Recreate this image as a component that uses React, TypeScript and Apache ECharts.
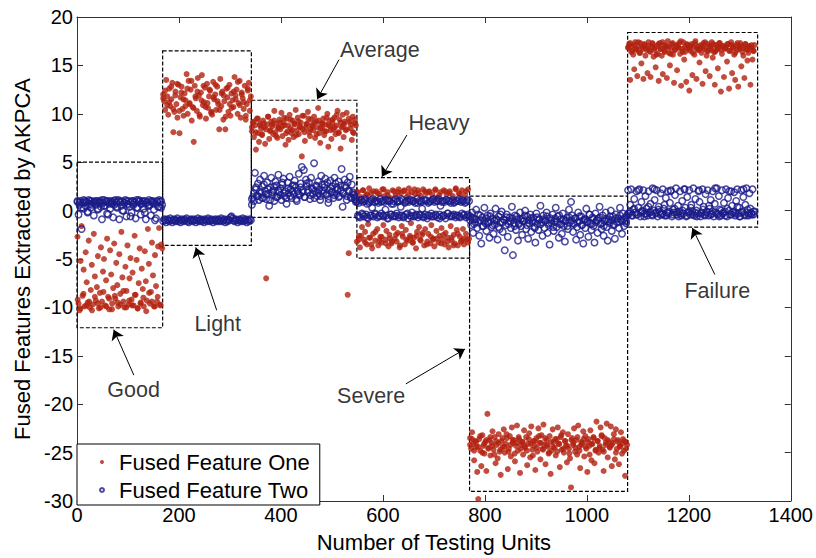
import React, { useEffect, useRef } from "react";
import * as echarts from "echarts";

// Fused feature values per health state (first pass over the units).
const goodOne = [
  -2.7, -9.6, -10.3, -5.2, -1.6, -8.8, -6.1, -9.9, -4.3, -7.4,
  -9.5, -3.1, -10.0, -8.2, -5.6, -9.7, -2.4, -6.8, -9.3, -7.9,
  -4.7, -10.1, -8.5, -3.8, -9.4, -6.3, -5.0, -9.8, -7.2, -2.9,
  -8.9, -10.2, -4.1, -6.6, -9.6, -8.0, -3.4, -9.1, -5.4, -7.7,
  -9.9, -4.5, -8.6, -2.2, -6.9, -9.4, -10.0, -5.8, -8.3, -3.6,
  -9.7, -7.0, -4.9, -9.2, -6.4, -9.8, -2.6, -8.7, -5.1, -10.1,
  -7.5, -3.9, -9.5, -6.0, -8.1, -9.9, -4.2, -7.3, -9.3, -1.9,
  -5.5, -9.6, -8.4, -3.3, -6.7, -9.9, -4.6, -7.8, -9.4, -3.7,
  -1.8, -9.8, -3.5, -3.9,
];
const goodTwo = [
  0.9, -0.4, 0.6, 1.0, -1.9, 0.8, 0.2, 1.0, 0.5, 0.9,
  -0.2, 1.1, 0.7, 0.3, 1.0, 0.8, -0.5, 0.9, 0.6, 1.0,
  0.1, 0.9, 1.0, 0.4, -0.9, 0.8, 1.1, 0.5, 0.9, -0.3,
  1.0, 0.7, 0.2, 1.0, 0.9, -0.7, 0.6, 1.1, 0.8, 0.3,
  1.0, -0.9, 0.9, 0.5, 1.0, 0.0, 0.8, 1.1, -0.6, 0.7,
  1.0, 0.4, 0.9, -0.2, 1.0, 0.6, 0.8, -0.8, 1.1, 0.3,
  0.9, 1.0, -0.4, 0.7, 0.9, 0.2, 1.0, -0.9, 0.8, 0.5,
  1.1, 0.6, -0.5, 0.9, 1.0, 0.1, 0.7, -0.8, 1.0, 0.4,
  1.1, 0.9, 0.3, 0.6,
];
const lightOne = [
  12.0, 11.3, 10.4, 13.5, 11.8, 9.9, 12.6, 10.8, 11.5, 13.2,
  8.1, 10.2, 12.3, 11.0, 9.6, 13.0, 8.0, 11.7, 12.8, 10.5,
  9.8, 12.1, 11.4, 14.1, 10.0, 13.4, 11.1, 12.5, 9.3, 10.7,
  7.1, 12.9, 11.6, 10.3, 13.7, 11.9, 9.7, 12.2, 14.0, 10.9,
  11.2, 12.7, 9.5, 13.1, 10.6, 11.8, 12.4, 10.1, 9.9, 13.3,
  11.5, 12.0, 10.4, 12.8, 11.0, 8.4, 13.6, 10.8, 12.3, 9.4,
  11.3, 8.4, 12.6, 11.7, 10.2, 13.0, 9.8, 12.1, 11.4, 10.7,
  13.8, 11.9, 12.5, 10.0, 11.1, 13.4, 9.6, 12.2, 11.6, 10.5,
  12.9, 9.4, 11.0, 12.4, 13.2, 10.3, 11.8,
];
const lightTwo = [
  -1.1, -0.9, -1.0, -1.2, -0.9, -1.0, -1.1, -0.8, -1.0, -1.2,
  -1.0, -0.9, -1.1, -1.0, -0.8, -1.1, -1.0, -1.2, -0.9, -1.0,
  -1.1, -0.9, -1.0, -0.8, -1.1, -1.2, -1.0, -0.9, -1.0, -1.1,
  -0.9, -1.0, -1.2, -1.0, -0.8, -1.1, -1.0, -0.9, -1.1, -1.0,
  -1.2, -0.9, -1.0, -1.1, -0.8, -1.0, -1.1, -0.9, -1.0, -1.2,
  -1.0, -0.9, -1.1, -1.0, -0.9, -1.1, -1.0, -0.8, -1.1, -1.0,
  -0.9, -1.2, -1.0, -1.1, -0.9, -1.0, -0.7, -0.6, -0.8, -1.0,
  -1.1, -0.9, -1.0, -1.2, -1.0, -0.9, -1.1, -1.0, -0.8, -1.1,
  -1.0, -0.9, -1.2, -1.0, -1.1, -0.9, -1.0,
];
const averageOne = [
  8.2, 9.1, 7.6, 8.8, 6.3, 9.5, 8.0, 7.1, 9.0, 8.5,
  7.8, 9.3, 8.6, 6.9, -7.0, 8.9, 9.7, 7.4, 8.3, 9.2,
  8.7, 7.9, 10.3, 8.1, 9.0, 7.5, 8.6, 9.4, 8.4, 10.1,
  7.7, 9.1, 8.8, 6.8, 9.5, 8.2, 7.3, 9.9, 8.5, 8.0,
  9.3, 7.6, 8.9, 10.4, 8.3, 9.6, 7.9, 8.7, 9.1, 5.6,
  8.4, 9.8, 7.2, 8.6, 9.0, 10.2, 8.1, 7.7, 9.4, 8.8,
  8.3, 9.7, 7.5, 9.2, 8.6, 10.6, 8.0, 7.0, 9.0, 8.5,
  9.5, 7.8, 8.9, 8.2, 10.0, 6.6, 9.3, 8.7, 7.4, 9.1,
  8.4, 9.6, 7.9, 8.8, 10.3, 8.1, 9.4, 6.4, 8.6, 9.9,
  7.6, 9.0, 8.3, 10.1, -8.7, -4.4, 9.2, 8.5, 7.3, 9.7,
  8.0, 9.4, 8.8,
];
const averageTwo = [
  0.6, 1.4, 1.0, 3.9, 2.2, 1.5, 2.8, 1.1, 3.2, 1.8,
  2.5, 1.3, 3.6, 2.0, 1.2, 2.9, 1.7, 0.5, 2.4, 3.4,
  1.6, 2.1, 1.0, 3.0, 2.6, 1.4, 3.7, 1.9, 2.3, 1.1,
  2.7, 3.3, 1.5, 2.0, 0.7, 2.9, 1.8, 3.5, 2.2, 1.3,
  2.6, 1.7, 3.1, 2.4, 1.0, 2.0, 3.8, 1.6, 2.8, 4.5,
  2.1, 4.2, 1.4, 3.2, 2.5, 1.9, 2.9, 1.2, 3.4, 2.3,
  1.7, 4.9, 2.0, 2.6, 1.5, 3.0, 2.2, 1.1, 3.6, 2.7,
  1.8, 2.4, 3.3, 1.6, 2.9, 0.8, 2.1, 3.1, 1.9, 2.5,
  1.3, 3.4, 2.8, 1.7, 2.2, 3.0, 1.5, 2.6, 4.3, 0.4,
  1.8, 3.2, 2.4, 1.1, 2.9, 2.0, 3.5, 1.4, 2.7, 1.9,
  1.6, 1.2, 0.9,
];
const heavyOne = [
  -3.2, 1.9, -2.6, -3.8, 1.4, -1.7, 2.1, -3.0, -2.2, 1.6,
  -3.5, -1.4, 2.3, -2.8, 1.8, -3.9, -2.4, 1.2, -3.1, 2.0,
  -1.9, -3.6, 1.7, -2.7, -3.3, 2.2, -1.5, 1.5, -3.0, -2.1,
  1.9, -3.7, -2.5, 1.3, -3.4, 2.1, -1.8, -2.9, 1.6, -3.2,
  -2.3, 2.2, -3.8, 1.8, -1.6, -2.7, 2.0, -3.5, -2.0, 1.4,
  -3.1, 2.3, -2.6, -1.3, 1.9, -3.3, -2.8, 1.7, -3.9, -2.2,
  2.1, -1.7, -3.0, 1.5, -2.5, 2.2, -3.6, -1.9, 1.8, -3.2,
  -2.4, 2.0, -3.4, -1.5, 1.6, -2.9, -3.7, 2.2, -2.1, 1.3,
  -3.3, -2.6, 1.9, -1.8, -3.0, 2.1, -3.5, -2.3, 1.7, -2.8,
  -3.8, 2.0, -1.6, -3.1, 1.5, -2.5, -3.4, 2.3, -2.0, -3.6,
  1.8, -2.7, -3.2, 2.1, -1.9, -3.5, 1.6, -2.4, -3.0, 2.2,
  -2.9,
];
const heavyTwo = [
  1.0, -0.5, 0.8, -0.7, 1.1, -0.3, 0.9, -0.6, 1.2, -0.4,
  0.7, -0.8, 1.0, -0.5, 1.1, 0.3, -0.6, 0.9, -0.4, 1.0,
  -0.7, 0.8, -0.5, 1.2, -0.3, 1.0, -0.6, 0.9, 0.1, -0.5,
  1.1, -0.8, 1.0, -0.4, 0.7, -0.6, 1.0, -0.5, 1.2, -0.3,
  0.9, -0.7, 1.0, 0.4, -0.5, 1.1, -0.6, 0.8, -0.4, 1.0,
  -0.8, 0.9, -0.5, 1.1, -0.2, 1.0, -0.6, 0.8, -0.4, 1.2,
  -0.7, 1.0, -0.5, 0.9, 0.2, -0.6, 1.1, -0.4, 1.0, -0.8,
  0.8, -0.5, 1.0, -0.3, 1.1, -0.6, 0.9, -0.5, 1.0, -0.7,
  1.2, -0.4, 0.5, -0.6, 1.0, -0.5, 0.9, -0.8, 1.1, -0.3,
  1.0, -0.6, 0.8, -0.5, 1.1, -0.4, 0.9, -0.7, 1.0, -0.5,
  1.2, -0.6, 0.9, -0.3, 1.0, -0.5, 0.8, -0.7, 1.1, -0.4,
  1.0,
];
const severeOne = [
  -23.5, -24.6, -22.9, -24.1, -25.8, -23.8, -24.4, -27.0, -29.8, -23.6,
  -24.8, -26.4, -23.2, -24.3, -25.1, -23.9, -26.9, -21.0, -24.5, -23.7,
  -25.3, -24.0, -22.8, -24.7, -23.4, -26.1, -24.2, -25.6, -23.1, -24.9,
  -27.3, -23.8, -24.4, -22.6, -25.0, -24.1, -23.5, -26.7, -24.6, -23.3,
  -25.4, -22.4, -24.0, -23.7, -25.9, -24.3, -22.2, -24.8, -23.6, -27.1,
  -24.2, -23.9, -25.2, -22.7, -24.5, -23.4, -26.3, -24.1, -23.0, -25.5,
  -22.3, -24.7, -23.8, -24.3, -26.8, -23.5, -24.9, -22.5, -24.0, -25.7,
  -23.2, -24.6, -22.1, -24.2, -26.2, -23.7, -24.4, -25.1, -23.3, -27.2,
  -24.8, -22.6, -23.9, -24.5, -25.3, -23.6, -22.4, -24.1, -26.5, -23.4,
  -24.7, -22.9, -25.0, -23.8, -24.3, -26.0, -23.1, -24.6, -25.6, -28.6,
  -23.5, -24.2, -22.5, -24.9, -23.7, -25.2, -22.2, -24.4, -26.6, -23.9,
  -24.0, -22.8, -25.4, -23.3, -24.6, -27.0, -23.6, -24.3, -22.7, -25.8,
  -24.1, -23.4, -26.1, -24.8, -21.8, -23.8, -25.0, -24.5, -22.4, -23.2,
  -24.7, -26.9, -23.5, -24.2, -22.0, -25.5, -23.9, -24.4, -22.3, -26.4,
  -24.0, -23.1, -25.7, -22.6, -24.6, -23.7, -26.2, -24.3, -22.9, -25.1,
  -23.6, -24.8, -27.4, -23.9, -24.2,
];
const severeTwo = [
  -0.6, -1.5, -0.2, -2.3, -0.9, -1.2, 0.1, -1.8, -0.4, -2.6,
  -1.0, -3.4, -0.7, -1.6, 0.3, -1.3, -2.1, -0.5, -1.1, -2.8,
  -0.3, -1.7, -0.8, -2.4, -1.4, 0.2, -1.0, -3.0, -0.6, -1.9,
  -1.2, -0.1, -2.2, -0.9, -4.1, -1.5, -0.4, -2.7, -1.1, -0.7,
  -1.8, 0.4, -4.6, -1.3, -0.5, -2.0, -0.9, -3.1, -1.4, -0.2,
  -1.6, -2.5, -0.8, -1.1, 0.0, -1.9, -0.6, -2.9, -1.3, -0.4,
  -2.2, -1.0, -0.7, -1.7, -3.3, -0.3, -1.4, -2.0, -0.9, 0.5,
  -1.2, -2.6, -0.5, -1.8, -1.0, -0.2, -2.3, -1.5, -3.5, -0.8,
  -1.3, -0.4, -2.1, -1.1, 0.3, -1.7, -0.6, -2.8, -1.4, -0.9,
  -2.4, -0.3, -1.6, -3.2, -1.0, -0.7, -1.9, 0.1, -1.2, 0.9,
  -0.5, -2.2, -1.4, -0.8, -3.0, -1.7, -0.2, -1.1, -2.5, -0.6,
  -1.5, -3.4, -0.9, -1.8, 0.2, -1.2, -2.7, -0.4, -1.3, -2.0,
  -0.7, -1.6, -3.3, -0.3, -1.0, -2.3, -0.8, 0.4, -1.4, -1.9,
  -0.5, -2.6, -1.1, -0.2, -1.7, -3.1, -0.9, -1.3, 0.0, -2.1,
  -0.6, -1.5, -2.9, -0.4, -1.2, -0.8, -1.8, 0.3, -1.0, -2.4,
  -0.3, -1.6, -0.7, -1.1, -0.5,
];
const failureOne = [
  16.8, 17.2, 13.5, 16.4, 17.0, 16.1, 14.6, 17.4, 16.6, 13.9,
  16.9, 16.3, 17.3, 15.2, 16.7, 13.6, 17.1, 16.0, 16.8, 14.2,
  17.4, 16.5, 13.8, 16.9, 17.2, 15.9, 16.6, 14.8, 17.0, 16.2,
  13.4, 17.3, 16.7, 16.0, 14.1, 17.1, 16.4, 16.9, 13.7, 17.5,
  16.3, 15.0, 16.8, 17.2, 16.1, 13.2, 16.6, 17.0, 14.5, 16.9,
  17.3, 16.2, 12.9, 16.7, 17.4, 15.6, 16.4, 13.3, 17.1, 16.8,
  12.4, 16.5, 17.2, 14.0, 16.9, 16.1, 17.5, 13.6, 16.6, 17.0,
  15.3, 16.8, 16.3, 13.1, 17.3, 16.7, 14.4, 16.0, 17.2, 16.5,
  13.9, 16.9, 17.4, 15.8, 16.4, 13.0, 17.1, 16.6, 14.7, 16.8,
  17.3, 12.3, 16.2, 17.0, 13.8, 16.7, 16.9, 15.4, 17.2, 12.6,
  16.5, 17.4, 14.2, 16.8, 16.1, 13.5, 17.1, 16.6, 12.8, 16.9,
  17.3, 14.9, 16.4, 16.0, 13.7, 17.2, 16.7, 15.5, 16.3, 17.0,
  13.0, 16.8, 15.6, 16.5, 17.1,
];
const failureTwo = [
  2.1, -0.3, 0.6, 2.2, -0.5, 0.1, 1.2, -0.2, 2.0, -0.4,
  0.3, 2.2, -0.6, 0.9, -0.1, 2.1, -0.3, 1.5, 0.2, -0.5,
  2.0, -0.2, 0.7, -0.4, 2.3, 0.0, 1.1, -0.3, 2.1, -0.6,
  0.4, -0.1, 1.8, -0.4, 2.2, 0.2, -0.5, 1.3, -0.2, 2.0,
  -0.3, 0.8, 2.1, -0.6, 0.1, -0.2, 1.6, 2.3, -0.4, 0.5,
  -0.1, 2.0, -0.5, 1.0, -0.3, 2.2, 0.3, -0.6, 1.4, -0.2,
  2.1, -0.4, 0.6, -0.1, 2.3, -0.5, 1.2, 0.0, -0.3, 2.0,
  0.9, -0.6, -0.2, 2.2, 0.4, -0.4, 1.7, -0.1, 2.1, -0.5,
  0.2, 1.1, -0.3, 2.0, -0.6, 0.7, -0.2, 2.3, -0.4, 1.5,
  0.1, -0.5, 2.1, -0.3, 0.8, -0.1, 2.2, -0.6, 1.3, 0.0,
  -0.4, 2.0, 0.5, -0.2, 1.9, -0.5, 1.0, 2.2, -0.3, 0.3,
  -0.6, 2.1, -0.1, 1.4, -0.4, 0.6, 2.3, -0.2, -0.5, 1.8,
  0.2, -0.3, 2.2, -0.4, -0.1,
];

// Second pass over the units (interleaved with the first).
const goodOneB = [
  -9.2, -10.1, -8.6, -9.8, -9.4, -10.3, -8.9, -9.6, -10.0, -8.4,
  -9.9, -9.1, -10.2, -8.8, -9.5, -9.7, -8.3, -10.0, -9.3, -9.8,
  -8.7, -10.1, -9.6, -9.0, -10.4, -8.5, -9.4, -9.9, -8.9, -9.7,
];
const goodTwoB = [
  1.0, 0.8, 0.3, 1.1, 0.9, -0.1, 1.0, 0.6, 0.9, 1.0,
  0.2, 0.8, 1.1, 0.5, 1.0, -0.4, 0.9, 0.7, 1.0, 0.4,
  1.1, 0.9, 0.0, 0.8, 1.0, 0.6, -0.6, 1.0, 0.9, 0.3,
  1.1, 0.7, 1.0, -0.2, 0.9, 0.5, 1.0, 0.8, -1.0, 0.9,
  0.4, 1.0,
];
const lightOneB = [
  11.6, 12.4, 10.9, 11.2, 12.8, 10.5, 11.9, 13.1, 10.3, 12.2,
  11.5, 10.8, 12.6, 11.0, 13.4, 10.6, 11.8, 12.3, 9.9, 11.4,
  12.9, 10.7, 11.1, 12.5, 10.2, 11.7, 13.0, 11.3, 10.4, 12.1,
  11.9, 9.7, 12.7, 11.0, 10.6, 12.3, 11.5, 13.3, 10.9, 12.0,
  11.2, 9.8, 12.6, 11.4,
];
const averageOneB = [
  8.6, 9.2, 8.1, 9.5, 8.8, 7.9, 9.0, 8.4, 9.7, 8.2,
  8.9, 9.3, 7.7, 8.5, 9.1, 8.7, 9.6, 8.0, 8.8, 9.4,
  8.3, 9.0, 7.8, 9.2, 8.6, 9.8, 8.1, 8.9, 9.5, 8.4,
  8.7, 9.1, 7.9, 9.3, 8.5, 9.0, 8.2, 9.6, 8.8, 8.3,
  9.4, 8.6, 9.9, 8.0, 9.1, 8.7, 9.2, 8.4, 9.5, 8.9,
  8.1, 9.0,
];
const averageTwoB = [
  1.2, 1.8, 2.4, 1.5, 2.0, 1.3, 2.7, 1.7, 2.2, 1.1,
  1.9, 2.5, 1.4, 2.1, 1.6, 2.9, 1.8, 1.3, 2.3, 1.5,
  2.0, 2.6, 1.2, 1.7, 2.4, 1.9, 1.4, 2.8, 2.1, 1.6,
  2.2, 1.3, 2.5, 1.8, 1.5, 2.0, 2.7, 1.7, 1.2, 2.3,
  1.9, 1.6, 2.4, 1.4, 2.1, 1.8, 2.6, 1.5, 2.0, 1.3,
  1.7, 1.4,
];
const heavyOneB = [
  1.9, -3.0, -2.6, 2.1, -3.3, 1.7, -2.8, -3.5, 2.0, -2.2,
  1.8, -3.1, -2.7, 2.2, -3.4, 1.6, -2.9, -3.2, 2.0, -2.5,
  1.9, -3.6, -2.4, 2.1, -3.0, 1.7, -2.8, -3.3, 2.2, -2.6,
  1.8, -3.1, -2.3, 2.0, -3.5, 1.9, -2.7, -3.0, 2.1, -2.9,
  1.6, -3.4, -2.5, 2.0, -3.2, 1.8, -2.8, -3.6, 2.2, -2.4,
  1.7, -3.1, -2.9, 2.0, -3.3,
];
const heavyTwoB = [
  0.9, -0.6, 1.1, -0.4, 1.0, -0.7, 0.8, -0.5, 1.2, -0.3,
  1.0, -0.6, 0.9, -0.5, 1.1, -0.8, 1.0, -0.4, 0.7, -0.6,
  1.0, -0.5, 1.2, -0.7, 0.9, -0.3, 1.1, -0.6, 1.0, -0.5,
  0.8, -0.4, 1.0, -0.7, 1.1, -0.5, 0.9, -0.6, 1.2, -0.4,
  1.0, -0.8, 0.9, -0.5, 1.1, -0.3, 1.0, -0.6, 0.8, -0.5,
  1.0, -0.7, 1.1, -0.4, 0.9, -0.6,
];
const severeOneB = [
  -24.2, -23.6, -24.8, -23.9, -24.4, -23.3, -25.0, -24.1, -23.7, -24.6,
  -23.4, -24.3, -25.2, -23.8, -24.0, -24.7, -23.5, -24.4, -23.1, -24.9,
  -24.2, -23.7, -25.1, -24.0, -23.4, -24.6, -23.9, -24.3, -24.8, -23.6,
  -24.1, -25.3, -23.8, -24.5, -23.3, -24.0, -24.7, -23.5, -24.2, -25.0,
  -23.9, -24.4, -23.6, -24.9, -24.1, -23.2, -24.6, -23.8, -24.3, -25.1,
  -23.7, -24.0, -24.5, -23.4, -24.8, -24.2, -23.6, -24.4, -23.9, -25.2,
  -24.1, -23.5, -24.7, -23.8, -24.3, -23.3, -24.9, -24.0, -23.7, -24.5,
  -24.2, -23.6, -25.0, -23.9, -24.4, -24.1, -23.8, -24.6,
];
const severeTwoB = [
  -1.0, -0.7, -1.4, -0.9, -1.2, -0.5, -1.6, -1.1, -0.8, -1.3,
  -0.6, -1.5, -1.0, -0.9, -1.7, -0.4, -1.2, -1.0, -0.7, -1.4,
  -1.1, -0.8, -1.6, -0.6, -1.3, -0.9, -1.1, -0.5, -1.5, -1.0,
  -0.8, -1.2, -1.8, -0.7, -1.0, -1.4, -0.9, -1.1, -0.6, -1.3,
  -1.0, -1.7, -0.8, -1.2, -0.5, -1.4, -0.9, -1.1, -1.6, -0.7,
  -1.0, -1.3, -0.8, -1.2, -0.6, -1.5, -1.0, -0.9, -1.1, -0.4,
  -1.4, -0.8, -1.2, -1.0, -0.7, -1.3, -1.6, -0.9, -1.1, -0.6,
  -1.0, -1.4, -0.8, -1.2, -0.5, -1.1, -0.9, -1.3,
];
const failureOneB = [
  16.9, 17.3, 16.5, 17.1, 16.7, 17.4, 16.3, 16.9, 17.2, 16.6,
  17.0, 16.4, 17.3, 16.8, 16.1, 17.2, 16.7, 17.4, 16.5, 17.0,
  16.9, 16.2, 17.3, 16.6, 17.1, 16.8, 17.5, 16.4, 16.9, 17.2,
  16.7, 17.0, 16.3, 17.3, 16.8, 16.6, 17.1, 16.9, 17.4, 16.5,
  17.0, 16.7, 17.2, 16.4, 16.9, 17.3, 16.6, 17.0, 16.8, 17.2,
  16.5, 17.1, 16.9, 16.3, 17.3, 16.7, 17.0, 16.8, 17.2, 16.6,
  16.9, 17.1, 16.5,
];
const failureTwoB = [
  -0.3, -0.1, -0.5, 0.2, -0.4, 2.1, -0.2, 0.0, -0.6, -0.3,
  0.4, -0.1, -0.5, 2.2, -0.2, 0.1, -0.4, -0.3, 0.6, -0.5,
  -0.1, 2.0, -0.4, 0.2, -0.2, -0.6, -0.3, 0.0, 2.2, -0.5,
  -0.1, 0.3, -0.4, -0.2, -0.6, 2.1, -0.3, 0.1, -0.5, -0.2,
  0.5, -0.4, -0.1, 2.3, -0.3, -0.6, 0.0, -0.2, -0.5, 0.2,
  2.0, -0.4, -0.1, -0.3, 0.4, -0.6, -0.2, 2.2, -0.5, 0.1,
  -0.3, -0.4, -0.1,
];

// Testing-unit ranges of the six health states
const unitBounds = [0, 168, 342, 548, 770, 1080, 1330];
const featureOneByState = [goodOne, lightOne, averageOne, heavyOne, severeOne, failureOne];
const featureTwoByState = [goodTwo, lightTwo, averageTwo, heavyTwo, severeTwo, failureTwo];
const featureOneByStateB = [goodOneB, lightOneB, averageOneB, heavyOneB, severeOneB, failureOneB];
const featureTwoByStateB = [goodTwoB, [], averageTwoB, heavyTwoB, severeTwoB, failureTwoB];

// Dashed regions enclosing each state
const stateNames = ["Good", "Light", "Average", "Heavy", "Severe", "Failure"];
const boxEdges = [0, 168, 342, 549, 770, 1080, 1335];
const boxTop = [5, 16.5, 11.4, 3.4, 1.5, 18.4];
const boxBottom = [-12.1, -3.6, -0.7, -4.9, -29.0, -1.7];

// State labels and their pointer arrows (data coordinates)
const labelAt = [[111, -18.5], [276, -11.7], [594, 16.6], [710, 9.1], [577, -19.2], [1256, -8.3]];
const arrowFrom = [[111.5, -17.0], [274, -10.3], [514, 15.6], [647, 7.8], [645, -17.9], [1251, -6.6]];
const arrowTo = [[72, -12.3], [233, -3.8], [471, 11.5], [598, 3.5], [761, -14.3], [1207, -1.8]];

const RED = "#b1200f";
const BLUE = "#1c1c8a";
const FONT = 'Arial, "Liberation Sans", Helvetica, sans-serif';

function placeOnUnits(...passes: number[][][]): number[][] {
  const out: number[][] = [];
  passes.forEach((groups, p) => {
    groups.forEach((vals, s) => {
      const a = unitBounds[s];
      const b = unitBounds[s + 1];
      const step = (b - a) / Math.max(vals.length, 1);
      const shift = p === 0 ? 0.5 : 0.25;
      vals.forEach((v, i) => out.push([a + (i + shift) * step, v]));
    });
  });
  return out;
}

export default function App() {
  const ref = useRef<HTMLDivElement>(null);

  useEffect(() => {
    if (!ref.current) return;
    const chart = echarts.init(ref.current, null, { renderer: "svg" });

    const axisLine = { show: true, onZero: false, lineStyle: { color: "#333", width: 1 } };
    const axisTick = { show: true, inside: true, length: 6, lineStyle: { color: "#333" } };
    const plain = (v: number) => String(v);

    chart.setOption({
      animation: false,
      backgroundColor: "#fff",
      textStyle: { fontFamily: FONT },
      grid: { left: 77, right: 23, top: 17, bottom: 53, containLabel: false },
      xAxis: [
        {
          type: "value", min: 0, max: 1400, interval: 200,
          name: "Number of Testing Units", nameLocation: "middle", nameGap: 30,
          nameTextStyle: { color: "#000", fontSize: 22, fontFamily: FONT },
          axisLine, axisTick,
          axisLabel: { color: "#000", fontSize: 20, margin: 4, fontFamily: FONT, formatter: plain },
          splitLine: { show: false },
        },
        {
          type: "value", position: "top", min: 0, max: 1400, interval: 200,
          axisLine, axisTick, axisLabel: { show: false }, splitLine: { show: false },
        },
      ],
      yAxis: [
        {
          type: "value", min: -30, max: 20, interval: 5,
          name: "Fused Features Extracted by AKPCA", nameLocation: "middle", nameGap: 44,
          nameTextStyle: { color: "#000", fontSize: 22, fontFamily: FONT },
          axisLine, axisTick,
          axisLabel: { color: "#000", fontSize: 20, margin: 4, fontFamily: FONT, formatter: plain },
          splitLine: { show: false },
        },
        {
          type: "value", position: "right", min: -30, max: 20, interval: 5,
          axisLine, axisTick, axisLabel: { show: false }, splitLine: { show: false },
        },
      ],
      legend: {
        data: ["Fused Feature One", "Fused Feature Two"],
        orient: "vertical",
        left: 77, top: 444,
        padding: [7, 10, 4, 22],
        itemGap: 6,
        itemWidth: 24, itemHeight: 4,
        backgroundColor: "#fff",
        borderColor: "#000", borderWidth: 1, borderRadius: 0,
        textStyle: { color: "#000", fontSize: 22, lineHeight: 22, fontFamily: FONT },
        selectedMode: false,
      },
      series: [
        {
          name: "Fused Feature One", type: "scatter",
          data: placeOnUnits(featureOneByState, featureOneByStateB),
          symbol: "circle", symbolSize: 6,
          itemStyle: { color: RED },
          silent: true, z: 3,
        },
        {
          name: "Fused Feature Two", type: "scatter",
          data: placeOnUnits(featureTwoByState, featureTwoByStateB),
          symbol: "circle", symbolSize: 6.5,
          itemStyle: { color: "rgba(255,255,255,0)", borderColor: BLUE, borderWidth: 1.5 },
          silent: true, z: 4,
        },
        {
          name: "Health states", type: "scatter",
          data: labelAt.map((p, i) => ({ name: stateNames[i], value: p })),
          symbol: "circle", symbolSize: 1,
          itemStyle: { color: "rgba(0,0,0,0)" },
          label: {
            show: true, position: "inside", formatter: "{b}",
            color: "#000", fontSize: 21.5, fontFamily: FONT,
          },
          silent: true, z: 5,
          markArea: {
            silent: true,
            label: { show: false },
            itemStyle: {
              color: "rgba(0,0,0,0)", borderColor: "#000", borderWidth: 1.2, borderType: [4, 2],
            },
            data: stateNames.map((_, i) => [
              { coord: [boxEdges[i], boxTop[i]] },
              { coord: [boxEdges[i + 1], boxBottom[i]] },
            ]),
          },
          markLine: {
            silent: true,
            symbol: ["none", "arrow"],
            symbolSize: 10,
            label: { show: false },
            lineStyle: { color: "#000", width: 1, type: "solid" },
            data: arrowFrom.map((f, i) => [{ coord: f }, { coord: arrowTo[i] }]),
          },
        },
      ],
    });

    return () => chart.dispose();
  }, []);

  return (
    <div
      ref={ref}
      style={{ position: "fixed", left: 0, top: 0, width: 816, height: 558, background: "#fff" }}
    />
  );
}
